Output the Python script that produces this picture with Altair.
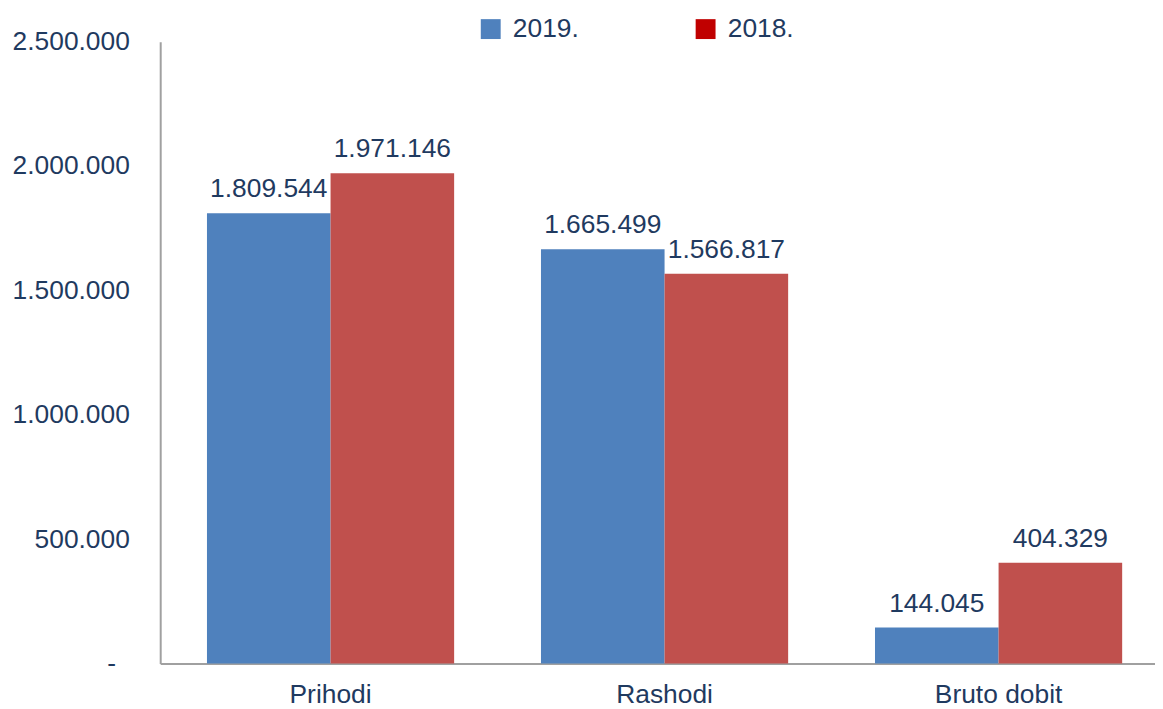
import altair as alt
import pandas as pd

categories = ["Prihodi", "Rashodi", "Bruto dobit"]
years = ["2019.", "2018."]
values_2019 = [1809544, 1665499, 144045]
values_2018 = [1971146, 1566817, 404329]

rows = []
for i, c in enumerate(categories):
    rows.append({"cat": c, "year": "2019.", "value": values_2019[i]})
    rows.append({"cat": c, "year": "2018.", "value": values_2018[i]})
df = pd.DataFrame(rows)
legend_df = pd.DataFrame({"legend_year": years, "value": [0, 0], "cat": [categories[0]] * 2})

NAVY = "#1F3A60"
FONT = "Liberation Sans"
FS = 26.5

x = alt.X("cat:N", sort=categories, title=None,
          scale=alt.Scale(paddingInner=0.26, paddingOuter=0.14, range=[0, 1014]),
          axis=alt.Axis(labelAngle=0, labelFontSize=FS, labelColor=NAVY, labelFont=FONT,
                        ticks=False, domainColor="#A0A0A0", domainWidth=2, labelPadding=18))
xo = alt.XOffset("year:N", sort=years, scale=alt.Scale(paddingInner=0, paddingOuter=0))
y = alt.Y("value:Q", title=None,
          scale=alt.Scale(domain=[0, 2500000], nice=False),
          axis=alt.Axis(values=[0, 500000, 1000000, 1500000, 2000000, 2500000],
                        format=",d", grid=False, ticks=False,
                        labelExpr="datum.value == 0 ? '-' : datum.label",
                        labelFontSize=FS, labelColor=NAVY, labelFont=FONT,
                        labelPadding={"condition": {"test": "datum.value == 0", "value": 45},
                                      "value": 31},
                        domainColor="#A0A0A0", domainWidth=2))

bars = alt.Chart(df).mark_bar().encode(
    x=x, xOffset=xo, y=y,
    color=alt.Color("year:N", sort=years,
                    scale=alt.Scale(domain=years, range=["#4F81BD", "#C0504D"]),
                    legend=None),
)

labels = alt.Chart(df).mark_text(baseline="bottom", dy=-10, fontSize=FS, color=NAVY,
                                 font=FONT).encode(
    x=alt.X("cat:N", sort=categories), xOffset=alt.XOffset("year:N", sort=years),
    y="value:Q",
    text=alt.Text("value:Q", format=",d"),
)

legend_layer = alt.Chart(legend_df).mark_square(size=0, opacity=1).encode(
    x=alt.X("cat:N", sort=categories),
    y="value:Q",
    color=alt.Color("legend_year:N", sort=years,
                    scale=alt.Scale(domain=years, range=["#4F81BD", "#C00000"]),
                    legend=alt.Legend(title=None, orient="none", direction="horizontal",
                                      legendX=319, legendY=-26, symbolType="square",
                                      symbolSize=400, symbolStrokeWidth=0,
                                      labelFontSize=FS, labelColor=NAVY, labelFont=FONT,
                                      labelOffset=9, columnPadding=114)),
)

chart = alt.layer(bars, labels, legend_layer).resolve_scale(color="independent").properties(
    width=1000, height=625,
    autosize=alt.AutoSizeParams(type="none"),
    padding={"left": 153, "top": 32, "right": 0, "bottom": 44},
).configure(
    locale={"number": {"decimal": ",", "thousands": ".", "grouping": [3],
                       "currency": ["", " €"]}}
).configure_view(stroke=None)

chart.save("out.html", embed_options={"renderer": "svg", "actions": False})
